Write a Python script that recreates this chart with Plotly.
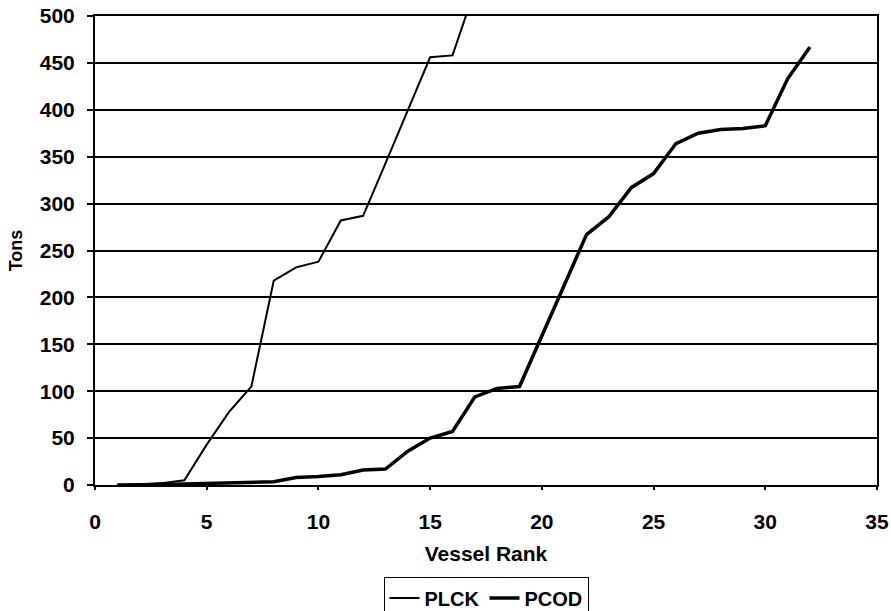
import plotly.graph_objects as go

# Cumulative catch by vessel rank (tons)
rank_plck = [1, 2, 3, 4, 5, 6, 7, 8, 9, 10, 11, 12, 13, 14, 15, 16, 17]
tons_plck = [0, 0.5, 2, 5, 43, 78, 105, 218, 232, 238, 282, 287, 343, 400, 456, 458, 528]

rank_pcod = list(range(1, 33))
tons_pcod = [0, 0, 0.5, 1, 1.5, 2, 2.5, 3.5, 8, 9, 11, 16, 17, 36, 50, 57,
             94, 103, 105, 160, 213, 267, 286, 317, 332, 364, 375, 379, 380, 383,
             433, 467]

x_ticks = [0, 5, 10, 15, 20, 25, 30, 35]
y_ticks = [0, 50, 100, 150, 200, 250, 300, 350, 400, 450, 500]

FONT = "Liberation Sans, Arial, sans-serif"
BOLD = dict(family=FONT, size=21, color="black", weight="bold")

fig = go.Figure()
fig.add_trace(go.Scatter(x=rank_plck, y=tons_plck, mode="lines", name="PLCK",
                         line=dict(color="black", width=2)))
fig.add_trace(go.Scatter(x=rank_pcod, y=tons_pcod, mode="lines", name="PCOD",
                         line=dict(color="black", width=3.5)))

fig.update_layout(
    width=891, height=611,
    margin=dict(l=95, r=14, t=16, b=126, autoexpand=False),
    paper_bgcolor="white", plot_bgcolor="white",
    font=dict(family=FONT, size=21, color="black"),
    showlegend=True,
    legend=dict(orientation="h", x=0.5, xanchor="center", y=-0.197, yanchor="top",
                bordercolor="black", borderwidth=1, bgcolor="white",
                font=dict(family=FONT, size=20, color="black", weight="bold"),
                itemwidth=30, tracegroupgap=0, valign="middle"),
)
fig.update_xaxes(
    range=[0, 35], tickvals=x_ticks, ticktext=[str(v) for v in x_ticks],
    showgrid=False, zeroline=False, automargin=False,
    showline=True, linecolor="black", linewidth=2, mirror=True,
    ticks="outside", ticklen=3, tickcolor="black", tickwidth=2,
    ticklabelstandoff=14,
    tickfont=BOLD,
    title=dict(text="Vessel Rank", standoff=14, font=BOLD),
)
fig.update_yaxes(
    range=[0, 500], tickvals=y_ticks, ticktext=[str(v) for v in y_ticks],
    showgrid=True, gridcolor="black", gridwidth=2, zeroline=False, automargin=False,
    showline=True, linecolor="black", linewidth=2, mirror=True,
    ticks="outside", ticklen=6, tickcolor="black", tickwidth=2,
    ticklabelstandoff=8,
    tickfont=BOLD,
    title=dict(text="Tons", standoff=12,
               font=dict(family=FONT, size=18, color="black", weight="bold")),
)

fig.write_html("out.html")
